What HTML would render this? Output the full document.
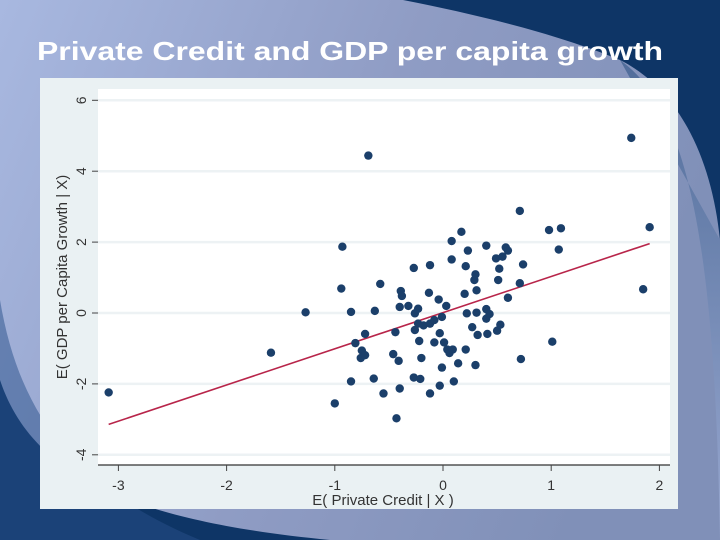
<!DOCTYPE html>
<html><head><meta charset="utf-8"><style>
html,body{margin:0;padding:0;width:720px;height:540px;overflow:hidden;}
svg{display:block;font-family:"Liberation Sans",Arial,sans-serif;}
</style></head><body>
<svg width="720" height="540" viewBox="0 0 720 540">
<defs>
<linearGradient id="bg" x1="0" y1="0" x2="1" y2="0.3">
<stop offset="0" stop-color="#a8b8e0"/><stop offset="0.55" stop-color="#8f9cc4"/><stop offset="1" stop-color="#8090b8"/>
</linearGradient>
<linearGradient id="rb" x1="0" y1="0" x2="0" y2="1">
<stop offset="0" stop-color="#3a5c8c"/><stop offset="1" stop-color="#a3b2da"/>
</linearGradient>
</defs>
<rect width="720" height="540" fill="url(#bg)"/>
<path d="M620,60 C690,110 715,250 720,540 L720,240 Z" fill="url(#rb)" opacity="0.7"/>
<path d="M403,0 L720,0 L720,240 C712,160 680,90 620,60 C560,35 480,15 403,0 Z" fill="#0e3566"/>
<path d="M0,380 C30,470 120,520 330,540 L0,540 Z" fill="#0e3566"/>
<path d="M0,300 C20,420 80,490 200,540 L0,540 Z" fill="#27508a" opacity="0.5"/>
<text x="37" y="60" fill="#ffffff" font-size="26" font-weight="bold" textLength="626" lengthAdjust="spacingAndGlyphs">Private Credit and GDP per capita growth</text>
<rect x="40" y="78" width="638" height="431" fill="#eaf1f3"/>
<rect x="98" y="89" width="572" height="376" fill="#ffffff"/>
<g id="grid"></g>
<g id="axes"></g>
<g id="fit"></g>
<g id="pts"></g>
<text transform="translate(67,277) rotate(-90)" text-anchor="middle" font-size="15" fill="#333">E( GDP per Capita Growth | X)</text>
<text x="383" y="505" text-anchor="middle" font-size="15" fill="#333">E( Private Credit | X )</text>
</svg>
<script>
const xVals=[-3.09,-1.59,-1.27,-1.0,-0.93,-0.94,-0.85,-0.85,-0.81,-0.75,-0.76,-0.72,-0.72,-0.69,-0.64,-0.63,-0.58,-0.55,-0.46,-0.44,-0.43,-0.41,-0.40,-0.40,-0.39,-0.38,-0.32,-0.27,-0.27,-0.26,-0.26,-0.23,-0.23,-0.22,-0.21,-0.20,-0.18,-0.13,-0.12,-0.12,-0.12,-0.08,-0.08,-0.04,-0.03,-0.03,-0.01,-0.01,0.01,0.03,0.04,0.06,0.08,0.08,0.09,0.10,0.14,0.17,0.20,0.21,0.21,0.22,0.23,0.27,0.29,0.30,0.30,0.31,0.31,0.32,0.40,0.40,0.40,0.41,0.43,0.49,0.50,0.51,0.52,0.53,0.55,0.58,0.60,0.60,0.71,0.71,0.72,0.74,0.98,1.01,1.07,1.09,1.74,1.85,1.91];
const yVals=[-2.24,-1.12,0.02,-2.55,1.87,0.69,0.03,-1.93,-0.85,-1.06,-1.27,-1.19,-0.59,4.44,-1.85,0.06,0.82,-2.27,-1.16,-0.54,-2.97,-1.35,-2.13,0.17,0.62,0.48,0.20,1.27,-1.82,-0.48,-0.01,0.12,-0.30,-0.79,-1.86,-1.27,-0.35,0.57,-0.30,1.35,-2.27,-0.20,-0.83,0.38,-2.05,-0.57,-1.54,-0.11,-0.83,0.20,-1.03,-1.13,1.51,2.03,-1.03,-1.93,-1.42,2.29,0.54,1.32,-1.03,-0.01,1.76,-0.40,0.93,1.09,-1.47,0.01,0.64,-0.62,1.90,0.11,-0.16,-0.59,-0.03,1.54,-0.50,0.93,1.25,-0.33,1.59,1.85,1.76,0.43,2.88,0.84,-1.30,1.37,2.34,-0.81,1.79,2.39,4.94,0.67,2.42];
const xTicks=[-3,-2,-1,0,1,2];
const yTicks=[-4,-2,0,2,4,6];
const fitSlope=[1.02];
const fitIntercept=[0.01];
const fitRange=[-3.09,1.91];
const NS="http://www.w3.org/2000/svg";
const sx=v=>443+v*108.2;
const sy=v=>313-v*35.45;
function mk(tag,attrs,parent){const e=document.createElementNS(NS,tag);for(const k in attrs)e.setAttribute(k,attrs[k]);parent.appendChild(e);return e;}
const grid=document.getElementById('grid'),axes=document.getElementById('axes'),fit=document.getElementById('fit'),pts=document.getElementById('pts');
yTicks.forEach(t=>{
 const g=mk('line',{x1:98,x2:670,y1:sy(t),y2:sy(t),stroke:'#edf2f4','stroke-width':2.5},grid);
 
 
 const tk=mk('line',{x1:92,x2:98,y1:sy(t),y2:sy(t),stroke:'#444','stroke-width':1},axes);
 
 
 const lb=mk('text',{transform:`translate(86,${sy(t)}) rotate(-90)`,'text-anchor':'middle','font-size':14,fill:'#333'},axes);
 lb.textContent=t;
 
 
});
const ax=mk('line',{x1:98,x2:670,y1:465,y2:465,stroke:'#333','stroke-width':1.2},axes);


xTicks.forEach(t=>{
 const tk=mk('line',{x1:sx(t),x2:sx(t),y1:465,y2:471,stroke:'#444','stroke-width':1},axes);
 
 
 const lb=mk('text',{x:sx(t),y:490,'text-anchor':'middle','font-size':14,fill:'#333'},axes);
 lb.textContent=t;
 
 
});
const fl=mk('line',{x1:sx(fitRange[0]),y1:sy(fitIntercept[0]+fitSlope[0]*fitRange[0]),x2:sx(fitRange[1]),y2:sy(fitIntercept[0]+fitSlope[0]*fitRange[1]),stroke:'#b8254a','stroke-width':1.6},fit);


xVals.forEach((x,i)=>{
 const c=mk('ellipse',{cx:sx(x),cy:sy(yVals[i]),rx:4.2,ry:4.2,fill:'#1b3f6a'},pts);
 
 
});
</script>
</body></html>
